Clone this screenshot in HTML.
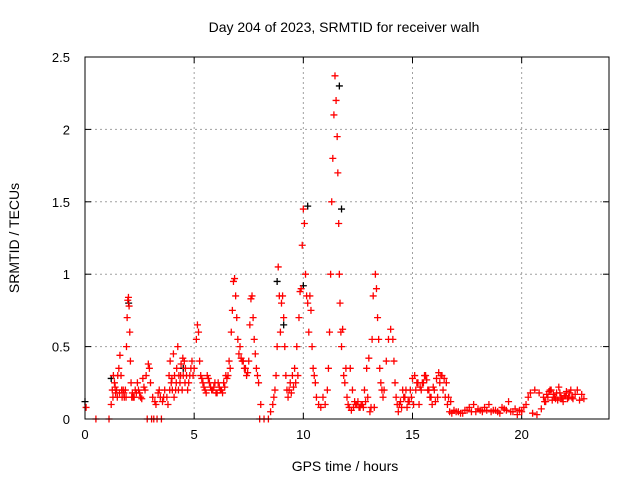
<!DOCTYPE html>
<html><head><meta charset="utf-8"><style>
body{margin:0;background:#fff;}
svg{display:block;font-family:"Liberation Sans",sans-serif;}
</style></head><body>
<svg id="chart" width="640" height="480" viewBox="0 0 640 480">
<text x="344" y="32" font-size="14" text-anchor="middle">Day 204 of 2023, SRMTID for receiver walh</text>
<text transform="translate(19,238) rotate(-90)" font-size="14" text-anchor="middle">SRMTID / TECUs</text>
<text x="345" y="471" font-size="14" text-anchor="middle">GPS time / hours</text>
<g id="grid"></g><g id="axes"></g><g id="marks"></g>
<rect x="85" y="57" width="524" height="362" fill="none" stroke="#000" stroke-width="1"/>
</svg>
<script>
const xTicks=[0,5,10,15,20];
const yTicks=[0,0.5,1,1.5,2,2.5];
const yTickLabels=["0","0.5","1","1.5","2","2.5"];
const redTimes=[0.05,0.5,1.1,1.2,1.25,1.3,1.35,1.4,1.45,1.5,1.55,1.6,1.65,1.7,1.75,1.8,1.85,1.9,1.93,1.96,1.99,2.02,2.05,2.08,2.11,2.14,2.17,2.2,2.3,2.4,2.5,2.6,2.7,2.8,2.85,2.9,2.95,3.0,3.05,3.1,3.15,3.2,3.3,3.35,3.4,3.45,3.5,3.6,3.8,3.85,3.9,3.95,4.0,4.05,4.1,4.15,4.2,4.25,4.3,4.35,4.4,4.45,4.5,4.55,4.6,4.7,4.8,4.9,5.0,5.1,5.15,5.2,5.25,5.3,5.4,5.5,5.6,5.7,5.8,5.9,6.0,6.1,6.2,6.3,6.4,6.5,6.55,6.6,6.65,6.7,6.75,6.8,6.85,6.9,6.95,7.0,7.05,7.1,7.2,7.3,7.4,7.5,7.55,7.6,7.65,7.7,7.75,7.8,7.85,7.9,7.95,8.0,8.05,8.2,8.4,8.5,8.6,8.65,8.7,8.75,8.8,8.85,8.9,8.95,9.0,9.05,9.1,9.15,9.2,9.25,9.3,9.35,9.4,9.5,9.6,9.7,9.8,9.85,9.9,9.95,10.0,10.05,10.1,10.15,10.2,10.25,10.3,10.35,10.4,10.45,10.5,10.55,10.6,10.7,10.8,10.9,11.0,11.1,11.15,11.2,11.25,11.3,11.35,11.4,11.45,11.5,11.55,11.58,11.62,11.65,11.68,11.72,11.75,11.8,11.85,11.9,11.95,12.0,12.05,12.1,12.2,12.3,12.4,12.5,12.6,12.7,12.8,12.9,13.0,13.05,13.1,13.15,13.2,13.3,13.35,13.4,13.45,13.5,13.55,13.6,13.65,13.7,13.8,13.9,14.0,14.1,14.15,14.2,14.25,14.3,14.35,14.4,14.45,14.5,14.6,14.7,14.8,14.9,15.0,15.1,15.2,15.3,15.4,15.5,15.6,15.7,15.8,15.9,16.0,16.1,16.2,16.3,16.4,16.5,16.6,16.7,16.8,16.9,17.0,17.2,17.4,17.6,17.8,18.0,18.2,18.4,18.5,18.6,18.8,19.0,19.2,19.4,19.6,19.8,20.0,20.2,20.3,20.4,20.6,20.8,21.0,21.1,21.2,21.3,21.4,21.5,21.6,21.7,21.8,21.9,22.0,22.1,22.2,22.3,22.4,22.5,22.6,22.7,22.8];
const redValues=[0.08,0,0,0.1,0.2,0.3,0.25,0.18,0.2,0.3,0.35,0.44,0.3,0.15,0.2,0.15,0.2,0.5,0.7,0.82,0.84,0.78,0.6,0.4,0.25,0.15,0.18,0.15,0.2,0.25,0.18,0.14,0.22,0.3,0,0.38,0.35,0.25,0,0.15,0,0.12,0,0.18,0.2,0.15,0,0.15,0.1,0.3,0.4,0.25,0.2,0.45,0.3,0.2,0.35,0.5,0.3,0.25,0.38,0.2,0.3,0.4,0.35,0.2,0.3,0.4,0.35,0.55,0.65,0.6,0.4,0.3,0.25,0.2,0.3,0.25,0.2,0.22,0.18,0.25,0.2,0.18,0.22,0.28,0.3,0.4,0.35,0.6,0.75,0.95,0.97,0.85,0.7,0.55,0.45,0.5,0.4,0.35,0.3,0.4,0.65,0.83,0.85,0.7,0.55,0.45,0.35,0.3,0.25,0,0.1,0,0,0.05,0.1,0.15,0.2,0.3,0.5,1.05,0.85,0.6,0.8,0.85,0.7,0.5,0.3,0.2,0.15,0.2,0.25,0.3,0.35,0.5,0.7,0.88,0.9,1.2,1.45,1.35,1.0,0.85,0.8,0.6,0.85,0.75,0.5,0.35,0.3,0.25,0.15,0.1,0.08,0.15,0.1,0.2,0.35,0.6,1.0,1.5,1.8,2.1,2.37,2.2,1.95,1.7,1.35,1.0,0.8,0.6,0.5,0.62,0.3,0.25,0.35,0.15,0.1,0.08,0.06,0.08,0.1,0.12,0.08,0.1,0.2,0.35,0.42,0.05,0.08,0.55,0.85,1.0,0.9,0.7,0.55,0.35,0.25,0.2,0.15,0.2,0.4,0.55,0.62,0.55,0.4,0.25,0.15,0.1,0.05,0.1,0.12,0.08,0.15,0.2,0.12,0.2,0.28,0.3,0.25,0.1,0.2,0.25,0.3,0.2,0.15,0.1,0.2,0.28,0.32,0.3,0.2,0.15,0.1,0.05,0.04,0.06,0.05,0.04,0.06,0.08,0.1,0.07,0.05,0.06,0.1,0.05,0.06,0.04,0.07,0.12,0.05,0.03,0.05,0.1,0.15,0.18,0.2,0.18,0.15,0.12,0.15,0.2,0.13,0.15,0.18,0.22,0.15,0.12,0.16,0.14,0.18,0.15];
const redTimesB=[1.28,1.38,1.48,1.58,1.68,1.78,1.88,2.25,2.35,2.45,2.55,2.65,2.75,3.25,3.55,3.65,3.75,3.88,3.98,4.08,4.18,4.28,4.38,4.48,4.58,4.65,4.75,4.85,4.95,5.35,5.45,5.55,5.65,5.75,5.85,5.95,6.05,6.15,6.25,6.35,6.45,7.15,7.25,7.35,7.45,9.45,9.55,9.65,9.75,12.15,12.25,12.35,12.45,12.55,12.65,12.75,12.85,12.95,13.25,14.55,14.65,14.75,14.85,14.95,15.05,15.15,15.25,15.35,15.45,15.55,15.65,15.75,15.85,15.95,16.05,16.15,16.25,16.35,16.45,16.55,16.65,16.75,17.1,17.3,17.5,17.7,17.9,18.1,18.3,18.7,18.9,19.1,19.3,19.5,19.7,19.9,20.1,20.5,20.7,20.9,21.05,21.15,21.25,21.35,21.45,21.55,21.65,21.75,21.85,21.95,22.05,22.15,22.25,22.35,22.45,22.55,22.65,22.75,22.85];
const redValuesB=[0.15,0.22,0.15,0.18,0.2,0.18,0.15,0.15,0.18,0.2,0.15,0.28,0.2,0.1,0.12,0.2,0.15,0.2,0.28,0.15,0.25,0.2,0.3,0.42,0.25,0.3,0.25,0.35,0.3,0.28,0.22,0.18,0.28,0.22,0.2,0.25,0.18,0.22,0.2,0.25,0.3,0.42,0.4,0.35,0.32,0.18,0.22,0.25,0.3,0.35,0.2,0.12,0.1,0.08,0.1,0.08,0.12,0.15,0.08,0.2,0.15,0.08,0.12,0.15,0.1,0.2,0.25,0.22,0.25,0.3,0.27,0.2,0.15,0.22,0.12,0.15,0.25,0.3,0.28,0.25,0.15,0.12,0.05,0.04,0.06,0.05,0.05,0.06,0.08,0.06,0.05,0.08,0.06,0.05,0.07,0.06,0.08,0.04,0.03,0.07,0.12,0.17,0.19,0.2,0.17,0.14,0.13,0.18,0.14,0.16,0.19,0.15,0.2,0.14,0.17,0.2,0.13,0.17,0.14];
const blackTimes=[0.0,1.2,2.0,4.5,8.8,9.1,10.0,10.2,11.65,11.75];
const blackValues=[0.12,0.28,0.8,0.35,0.95,0.65,0.92,1.47,2.3,1.45];
const NS="http://www.w3.org/2000/svg";
const X0=85,X1=609,Y0=419,Y1=57,XMAX=24,YMAX=2.5;
function xs(t){return X0+(X1-X0)*t/XMAX;}
function ys(v){return Y0-(Y0-Y1)*v/YMAX;}
const grid=document.getElementById('grid'),axes=document.getElementById('axes'),marks=document.getElementById('marks');
function mk(tag,attrs,parent){const e=document.createElementNS(NS,tag);for(const k in attrs)e.setAttribute(k,attrs[k]);parent.appendChild(e);return e;}
xTicks.forEach(t=>{
  const x=xs(t);
  if(t>0){const g=mk('line',{x1:x,y1:Y0,x2:x,y2:Y1,stroke:'#a0a0a0','stroke-dasharray':'2,3'},grid);
  
  }
  mk('line',{x1:x,y1:Y0,x2:x,y2:Y0-6,stroke:'#000'},axes);
  mk('line',{x1:x,y1:Y1,x2:x,y2:Y1+6,stroke:'#000'},axes);
  const l=mk('text',{x:x,y:Y0+20,'font-size':13,'text-anchor':'middle'},axes);
  l.textContent=String(t);
  
  
});
yTicks.forEach((v,i)=>{
  const y=ys(v);
  if(v>0&&v<YMAX){const g=mk('line',{x1:X0,y1:y,x2:X1,y2:y,stroke:'#a0a0a0','stroke-dasharray':'2,3'},grid);
  
  }
  mk('line',{x1:X0,y1:y,x2:X0+6,y2:y,stroke:'#000'},axes);
  mk('line',{x1:X1,y1:y,x2:X1-6,y2:y,stroke:'#000'},axes);
  const l=mk('text',{x:X0-15,y:y+5,'font-size':13,'text-anchor':'end'},axes);
  l.textContent=yTickLabels[i];
  
  
});
function plus(t,v,color,name){
  const x=xs(t),y=ys(v);
  const p=mk('path',{d:`M${x-3.5},${y}H${x+3.5}M${x},${y-3.5}V${y+3.5}`,stroke:color,'stroke-width':1.3,fill:'none'},marks);
  
  
}
blackTimes.forEach((t,i)=>plus(t,blackValues[i],'#000','black-point'));
redTimes.forEach((t,i)=>plus(t,redValues[i],'#f00','red-point'));
redTimesB.forEach((t,i)=>plus(t,redValuesB[i],'#f00','red-point'));
</script>
</body></html>
